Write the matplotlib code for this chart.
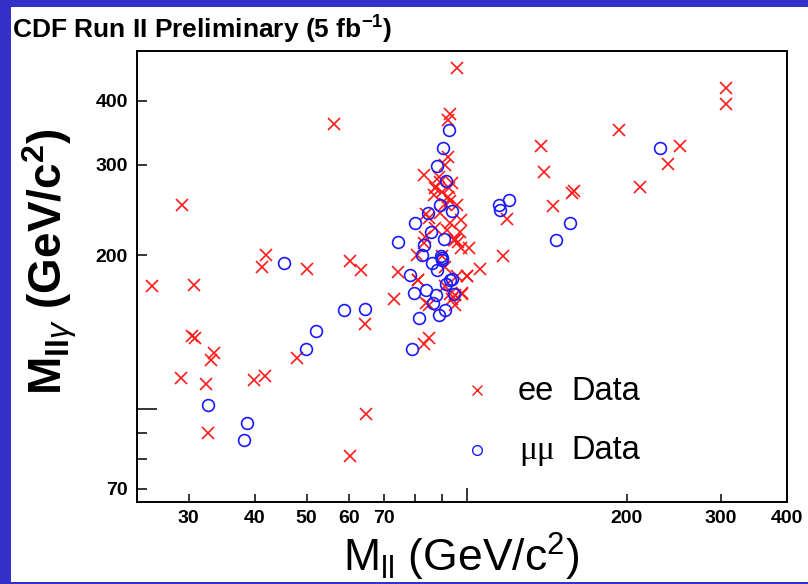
import matplotlib
matplotlib.use("Agg")
import matplotlib.pyplot as plt
from matplotlib.patches import Rectangle
from matplotlib.ticker import FixedLocator, FuncFormatter, NullFormatter

# ee candidates: dilepton mass and dilepton+photon mass (GeV/c^2)
ee_mll = [25.6, 30.7, 30.5, 30.9, 33.5, 33.0, 29.0, 32.3, 32.6, 41.3, 42.0, 50.1, 39.9, 41.7,
          48.0, 60.3, 63.4, 64.5, 72.9, 64.7, 60.3, 56.4, 29.2, 74.2, 95.7, 93.2, 92.2, 92.2,
          91.2, 83.1, 88.6, 87.4, 92.6, 86.7, 92.2, 93.2, 91.2, 96.0, 83.7, 97.4, 93.2, 83.4,
          94.6, 96.2, 97.4, 100.9, 80.7, 90, 81, 100, 91, 98, 95, 85, 95, 85, 83, 87, 85, 95,
          83, 91, 96, 81, 84, 93, 94, 89, 94, 90, 89, 92, 87, 97, 307, 307, 193, 138, 252, 239,
          140, 212, 158, 159, 145, 119, 117, 106, 100, 98]
ee_mllg = [174, 175, 139, 138, 129, 125, 115, 112, 90, 190, 200, 188, 114, 116, 126, 195, 187,
           147, 164, 98, 81, 360, 250, 185, 463, 377, 367, 311, 300, 287, 284, 272, 270, 262,
           260, 255, 252, 250, 241, 234, 231, 217, 214, 212, 206, 206, 200, 199, 179, 182, 174,
           169, 167, 160, 160, 138, 134, 270, 236, 214, 211, 190, 182, 179, 161, 168, 164, 278,
           276, 265, 242, 224, 226, 222, 424, 394, 351, 327, 327, 301, 291, 272, 264, 267, 249,
           235, 199, 188, 182, 168]

# mumu candidates
mm_mll = [32.6, 38.7, 38.2, 45.3, 49.8, 52.0, 58.8, 64.5, 92.6, 90.1, 88.0, 91.6, 88.9, 93.9,
          84.5, 79.9, 85.5, 74.4, 90.8, 83.1, 82.5, 89.6, 89.9, 85.9, 88.0, 78.1, 93.2, 93.9,
          91.6, 79.5, 84.0, 87.4, 94.6, 86.5, 91.2, 88.6, 81.5, 79.0, 89.7, 114.9, 115.3,
          120.0, 156.7, 147.1, 230.7]
mm_mllg = [102, 94, 87, 193, 131, 142, 156, 157, 350, 323, 298, 279, 250, 244, 242, 231, 222,
           212, 215, 209, 200, 199, 197, 193, 187, 183, 179, 180, 176, 169, 171, 167, 168, 161,
           156, 153, 151, 131, 196, 250, 245, 256, 231, 214, 324]

x_minor = [30, 40, 50, 60, 70, 80, 90, 200, 300, 400]
x_labeled = [30, 40, 50, 60, 70, 200, 300, 400]
y_minor = [70, 80, 90, 200, 300, 400]
y_labeled = [70, 200, 300, 400]

plt.rcParams['font.family'] = ['Liberation Sans', 'DejaVu Sans']
plt.rcParams['mathtext.fontset'] = 'custom'
plt.rcParams['mathtext.rm'] = 'Liberation Sans'
plt.rcParams['mathtext.it'] = 'Liberation Sans:italic'
plt.rcParams['mathtext.bf'] = 'Liberation Sans:bold'

fig = plt.figure(figsize=(8.08, 5.84), dpi=100)
fig.patch.set_facecolor('#3431c9')
fig.patches.append(Rectangle((11 / 808, 2 / 584), 797 / 808, 575 / 584,
                             transform=fig.transFigure, facecolor='white',
                             edgecolor='none', zorder=-5))

ax = fig.add_axes([137 / 808, 1 - 502 / 584, 650 / 808, 451 / 584])
ax.set_zorder(2)
ax.set_xscale('log')
ax.set_yscale('log')

ax.plot(ee_mll, ee_mllg, linestyle='none', marker='x', color='#ff1a1a',
        markersize=8, markeredgewidth=1.2)
ax.plot(mm_mll, mm_mllg, linestyle='none', marker='o', color='#1a1aff',
        markerfacecolor='none', markersize=8.5, markeredgewidth=1.2)

ax.set_xlim(24, 400)
ax.set_ylim(66, 500)

def lab(vals):
    return FuncFormatter(lambda v, p: '%d' % round(v) if round(v) in vals else '')

ax.xaxis.set_major_locator(FixedLocator([100]))
ax.xaxis.set_minor_locator(FixedLocator(x_minor))
ax.xaxis.set_major_formatter(NullFormatter())
ax.xaxis.set_minor_formatter(lab(x_labeled))
ax.yaxis.set_major_locator(FixedLocator([100]))
ax.yaxis.set_minor_locator(FixedLocator(y_minor))
ax.yaxis.set_major_formatter(NullFormatter())
ax.yaxis.set_minor_formatter(lab(y_labeled))

ax.tick_params(axis='both', which='both', direction='in', width=1.1,
               labelsize=14, top=False, right=False)
ax.tick_params(axis='x', which='major', length=10, pad=6)
ax.tick_params(axis='x', which='minor', length=5.5, pad=6)
ax.tick_params(axis='y', which='major', length=14.5, pad=6.5)
ax.tick_params(axis='y', which='minor', length=7.5, pad=6.5)
for t in ax.get_xticklabels(minor=True) + ax.get_yticklabels(minor=True):
    t.set_fontweight('bold')
for s in ax.spines.values():
    s.set_linewidth(1.4)

# legend drawn by hand, as in the original
ax.plot([0.5226], [0.2483], transform=ax.transAxes, marker='x', color='#ff1a1a',
        markersize=6.5, markeredgewidth=1.0, linestyle='none')
ax.plot([0.5226], [0.1153], transform=ax.transAxes, marker='o', color='#1a1aff',
        markerfacecolor='none', markersize=7, markeredgewidth=1.0, linestyle='none')
ax.text(0.5862, 0.2262, 'ee', transform=ax.transAxes, fontsize=23.5, va='baseline')
ax.text(0.6677, 0.2262, 'Data', transform=ax.transAxes, fontsize=23.5, va='baseline')
ax.text(0.5877, 0.0953, 'μμ', transform=ax.transAxes, fontsize=24, va='baseline',
        family=['Liberation Serif', 'DejaVu Serif'])
ax.text(0.6677, 0.0953, 'Data', transform=ax.transAxes, fontsize=23.5, va='baseline')

fig.text(12 / 808, 1 - 30 / 584, r'CDF Run II Preliminary (5 fb$^{\mathbf{-1}}$)',
         fontsize=19, fontweight='bold', ha='left', va='center')
fig.text(461 / 808, 1 - 572 / 584, r'M$_{\mathrm{ll}}$ (GeV/c$^{\mathrm{2}}$)',
         fontsize=32, ha='center', va='baseline')
fig.text(50 / 808, 1 - 262 / 584,
         r'$\mathbf{M}_{\mathbf{ll}\gamma}$ (GeV/c$^{\mathbf{2}}$)',
         fontsize=33, fontweight='bold', rotation=90, ha='center', va='center')

fig.savefig('out.png', dpi=100, facecolor=fig.get_facecolor())
